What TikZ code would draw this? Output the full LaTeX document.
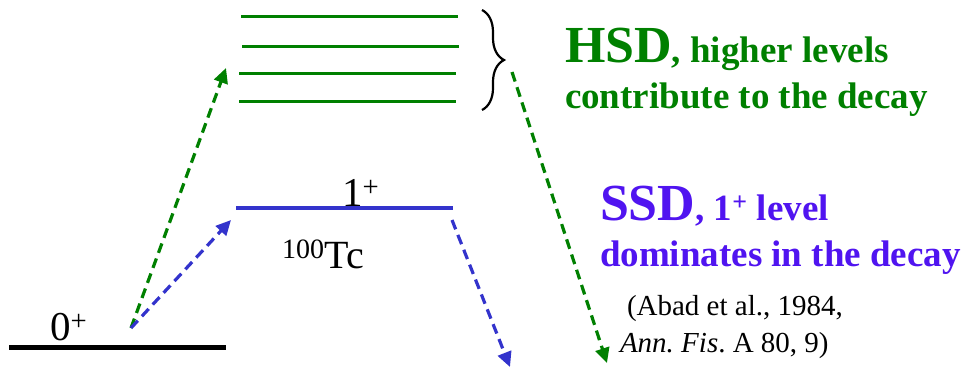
\documentclass[tikz,border=0pt]{standalone}
\usepackage{fontspec}
\setmainfont{Liberation Serif}
\usetikzlibrary{arrows.meta,decorations.pathreplacing}
\definecolor{hgreen}{RGB}{0,128,0}
\definecolor{lblue}{RGB}{51,51,204}
\definecolor{sviolet}{RGB}{80,20,240}
\frenchspacing
\tikzset{
  greenlvl/.style={draw=hgreen,line width=3pt},
  dasharrow/.style={line width=3.2pt,dash pattern=on 10pt off 6pt,-{Triangle[length=15pt,width=14pt]}},
  txt/.style={anchor=base west,inner sep=0pt,outer sep=0pt},
}
\begin{document}
\begin{tikzpicture}[x=1pt,y=1pt]
\useasboundingbox (0,0) rectangle (962,-368);
% levels
\coordinate (g1a) at (241,-16);  \coordinate (g1b) at (458,-16);
\coordinate (g2a) at (242,-46);  \coordinate (g2b) at (459,-46);
\coordinate (g3a) at (239,-73);  \coordinate (g3b) at (456,-73);
\coordinate (g4a) at (239,-101); \coordinate (g4b) at (456,-101);
\draw[greenlvl] (g1a) -- (g1b);
\draw[greenlvl] (g2a) -- (g2b);
\draw[greenlvl] (g3a) -- (g3b);
\draw[greenlvl] (g4a) -- (g4b);
\coordinate (b1a) at (236,-208); \coordinate (b1b) at (453,-208);
\draw[draw=lblue,line width=4.5pt] (b1a) -- (b1b);
\coordinate (k0a) at (9,-347); \coordinate (k0b) at (226,-347);
\draw[black,line width=5pt] (k0a) -- (k0b);
% brace
\coordinate (brt) at (482,-10); \coordinate (brb) at (482,-110);
\draw[line width=2.2pt,decorate,decoration={brace,amplitude=22pt}] (brt) -- (brb);
% labels
\node[txt] (zero) at (50,-340) {\fontsize{41}{48}\selectfont 0\textsuperscript{+}};
\node[txt] (one) at (342,-206) {\fontsize{41}{48}\selectfont 1\textsuperscript{+}};
\node[txt] (tc) at (282,-268) {\fontsize{40}{48}\selectfont \textsuperscript{100}Tc};
% arrows
\coordinate (s0) at (131,-328);
\coordinate (gt) at (226,-68);
\coordinate (bt) at (231,-220);
\coordinate (bd0) at (452,-220);
\coordinate (bd1) at (510,-367);
\coordinate (gd0) at (512,-72);
\coordinate (gd1) at (607,-363);
\draw[dasharrow,hgreen] (s0) -- (gt);
\draw[dasharrow,lblue] (s0) -- (bt);
\draw[dasharrow,lblue] (bd0) -- (bd1);
\draw[dasharrow,hgreen] (gd0) -- (gd1);
% texts
\node[txt,text=hgreen,font=\bfseries] (hsd) at (565,-62) {\fontsize{52}{60}\selectfont HSD\fontsize{37}{44}\selectfont, higher levels};
\node[txt,text=hgreen,font=\bfseries] (hsd2) at (565,-108) {\fontsize{37}{44}\selectfont contribute to the decay};
\node[txt,text=sviolet,font=\bfseries] (ssd) at (600,-220) {\fontsize{52}{60}\selectfont SSD\fontsize{37}{44}\selectfont, 1\textsuperscript{+} level};
\node[txt,text=sviolet,font=\bfseries] (ssd2) at (600,-266) {\fontsize{37}{44}\selectfont dominates in the decay};
\node[txt] (cit1) at (627,-315) {\fontsize{29}{34}\selectfont (Abad et al., 1984,};
\node[txt] (cit2) at (620,-352) {\fontsize{29}{34}\selectfont \textit{Ann. Fis}. A 80, 9)};
\end{tikzpicture}
\end{document}
